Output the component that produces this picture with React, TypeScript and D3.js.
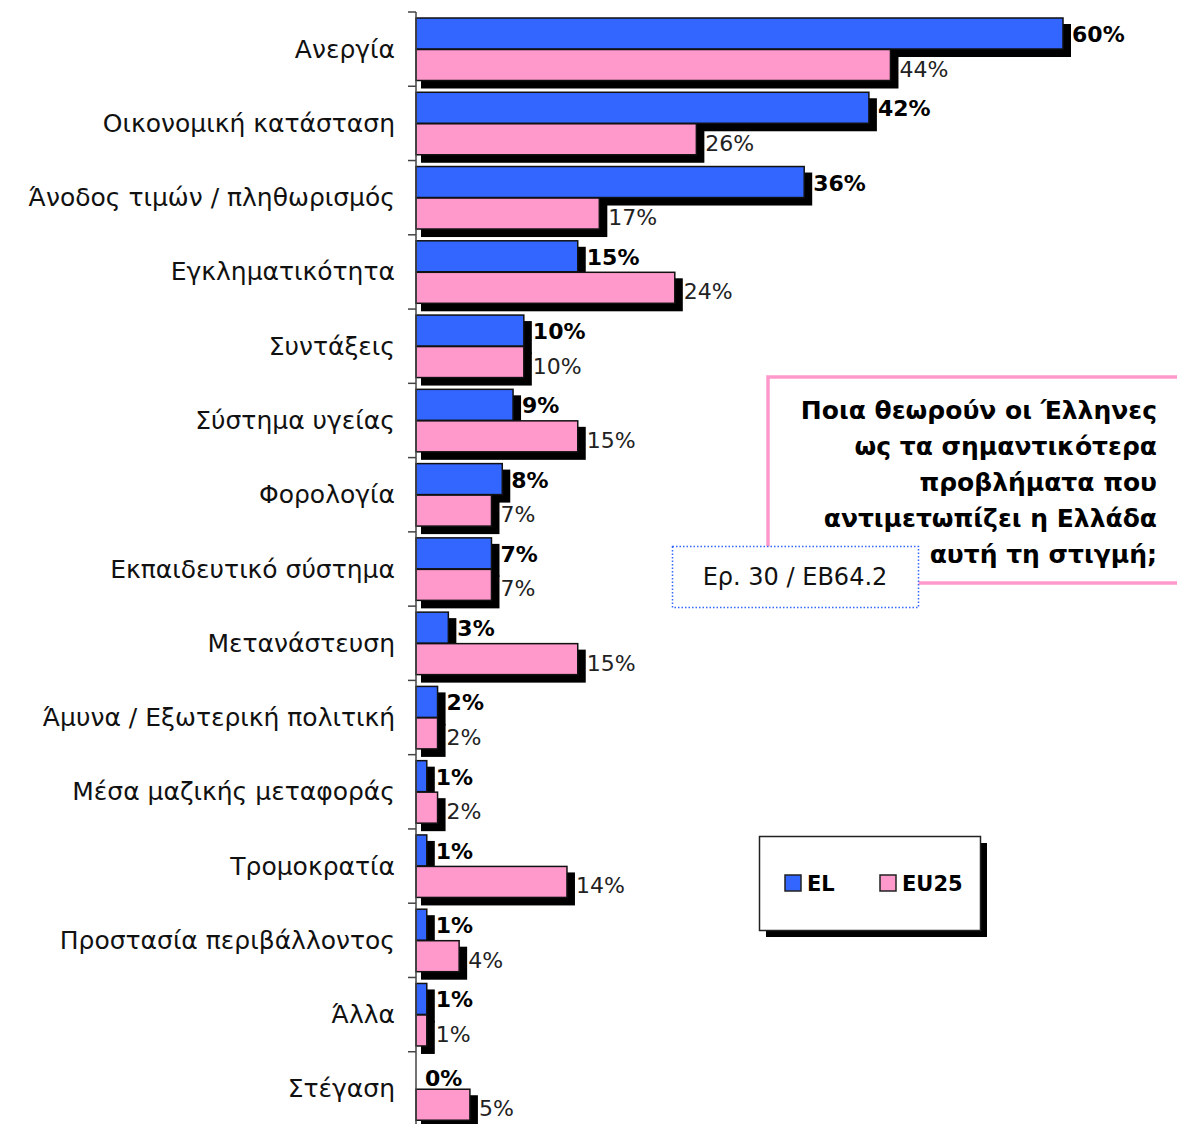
import React from "react";
import * as d3 from "d3";

const categories = [
  "Ανεργία",
  "Οικονομική κατάσταση",
  "Άνοδος τιμών / πληθωρισμός",
  "Εγκληματικότητα",
  "Συντάξεις",
  "Σύστημα υγείας",
  "Φορολογία",
  "Εκπαιδευτικό σύστημα",
  "Μετανάστευση",
  "Άμυνα / Εξωτερική πολιτική",
  "Μέσα μαζικής μεταφοράς",
  "Τρομοκρατία",
  "Προστασία περιβάλλοντος",
  "Άλλα",
  "Στέγαση",
];
const elValues = [60, 42, 36, 15, 10, 9, 8, 7, 3, 2, 1, 1, 1, 1, 0];
const eu25Values = [44, 26, 17, 24, 10, 15, 7, 7, 15, 2, 2, 14, 4, 1, 5];
const seriesNames = ["EL", "EU25"];
const titleLines = [
  "Ποια θεωρούν οι Έλληνες",
  "ως τα σημαντικότερα",
  "προβλήματα που",
  "αντιμετωπίζει η Ελλάδα",
  "αυτή τη στιγμή;",
];
const sourceNote = "Ερ. 30 / ΕΒ64.2";

const BLUE = "#3366FF";
const PINK = "#FF99CC";
const FONT = "'DejaVu Sans', sans-serif";

export default function App() {
  const W = 1177;
  const H = 1124;
  const x0 = 416;
  const x = d3.scaleLinear().domain([0, 60]).range([x0, 1063]);
  const y = d3.scaleBand().domain(categories).range([12, 1126]);
  const bw = y.bandwidth();
  const barH = 31;
  const sub = d3.scaleBand().domain(seriesNames).range([6, 6 + barH * 2 + 1]);

  const rows = categories.map((c, i) => ({ c, el: elValues[i], eu: eu25Values[i] }));

  const bar = (v: number, top: number, fill: string, key: string) => {
    const w = x(v) - x0;
    return (
      <g key={key}>
        {v > 0 && (
          <rect x={x0 + 5} y={top + 6} width={w + 3} height={barH + 2} fill="#000" />
        )}
        {v > 0 && (
          <rect x={x0} y={top} width={w} height={barH} fill={fill} stroke="#111" strokeWidth={1.5} />
        )}
      </g>
    );
  };

  return (
    <svg width={W} height={H} style={{ position: "absolute", left: 0, top: 0, background: "#fff" }}>
      {rows.map((r, i) => {
        const b = y(r.c)!;
        return (
          <g key={i}>
            {bar(r.el, b + sub("EL")!, BLUE, "el")}
            {bar(r.eu, b + sub("EU25")!, PINK, "eu")}
          </g>
        );
      })}
      {/* axis */}
      <line x1={x0} x2={x0} y1={12} y2={H} stroke="#444" strokeWidth={1.5} />
      {categories.map((c, i) => (
        <line key={"t" + i} x1={x0 - 8} x2={x0} y1={y(c)!} y2={y(c)!} stroke="#444" strokeWidth={1.5} />
      ))}
      {/* category labels */}
      {categories.map((c) => (
        <text
          key={"c" + c}
          x={395}
          y={y(c)! + bw / 2}
          textAnchor="end"
          dominantBaseline="central"
          fontFamily={FONT}
          fontSize={25}
          fill="#111"
        >
          {c}
        </text>
      ))}
      {/* value labels */}
      {rows.map((r, i) => {
        const b = y(r.c)!;
        return (
          <g key={"v" + i} fontFamily={FONT} fontSize={22} fill="#000">
            <text x={x(r.el) + 9} y={b + sub("EL")! + barH / 2 + (r.el === 0 ? 5 : 1)} dominantBaseline="central" fontWeight="bold">
              {r.el}%
            </text>
            <text x={x(r.eu) + 9} y={b + sub("EU25")! + barH / 2 + 4} dominantBaseline="central" fill="#222">
              {r.eu}%
            </text>
          </g>
        );
      })}
      {/* title box */}
      <rect x={768} y={377} width={430} height={206} fill="#fff" stroke={PINK} strokeWidth={3.5} />
      {titleLines.map((t, i) => (
        <text
          key={"tl" + i}
          x={1157}
          y={410 + i * 36}
          textAnchor="end"
          dominantBaseline="central"
          fontFamily={FONT}
          fontWeight="bold"
          fontSize={25}
          fill="#000"
        >
          {t}
        </text>
      ))}
      {/* source note */}
      <rect x={672.5} y={546.5} width={246} height={61} fill="#fff" stroke={BLUE} strokeWidth={1.5} strokeDasharray="1.5 2" />
      <text x={795} y={577} textAnchor="middle" dominantBaseline="central" fontFamily={FONT} fontSize={24} fill="#111">
        {sourceNote}
      </text>
      {/* legend */}
      <rect x={766} y={843} width={221} height={94} fill="#000" />
      <rect x={759.5} y={836.5} width={221} height={94} fill="#fff" stroke="#222" strokeWidth={1.5} />
      {seriesNames.map((s, i) => {
        const lx = i === 0 ? 785 : 880;
        return (
          <g key={"lg" + s}>
            <rect x={lx} y={875} width={16} height={16} fill={i === 0 ? BLUE : PINK} stroke="#222" strokeWidth={1.5} />
            <text x={lx + 22} y={884} dominantBaseline="central" fontFamily={FONT} fontWeight="bold" fontSize={21} fill="#000">
              {s}
            </text>
          </g>
        );
      })}
    </svg>
  );
}
